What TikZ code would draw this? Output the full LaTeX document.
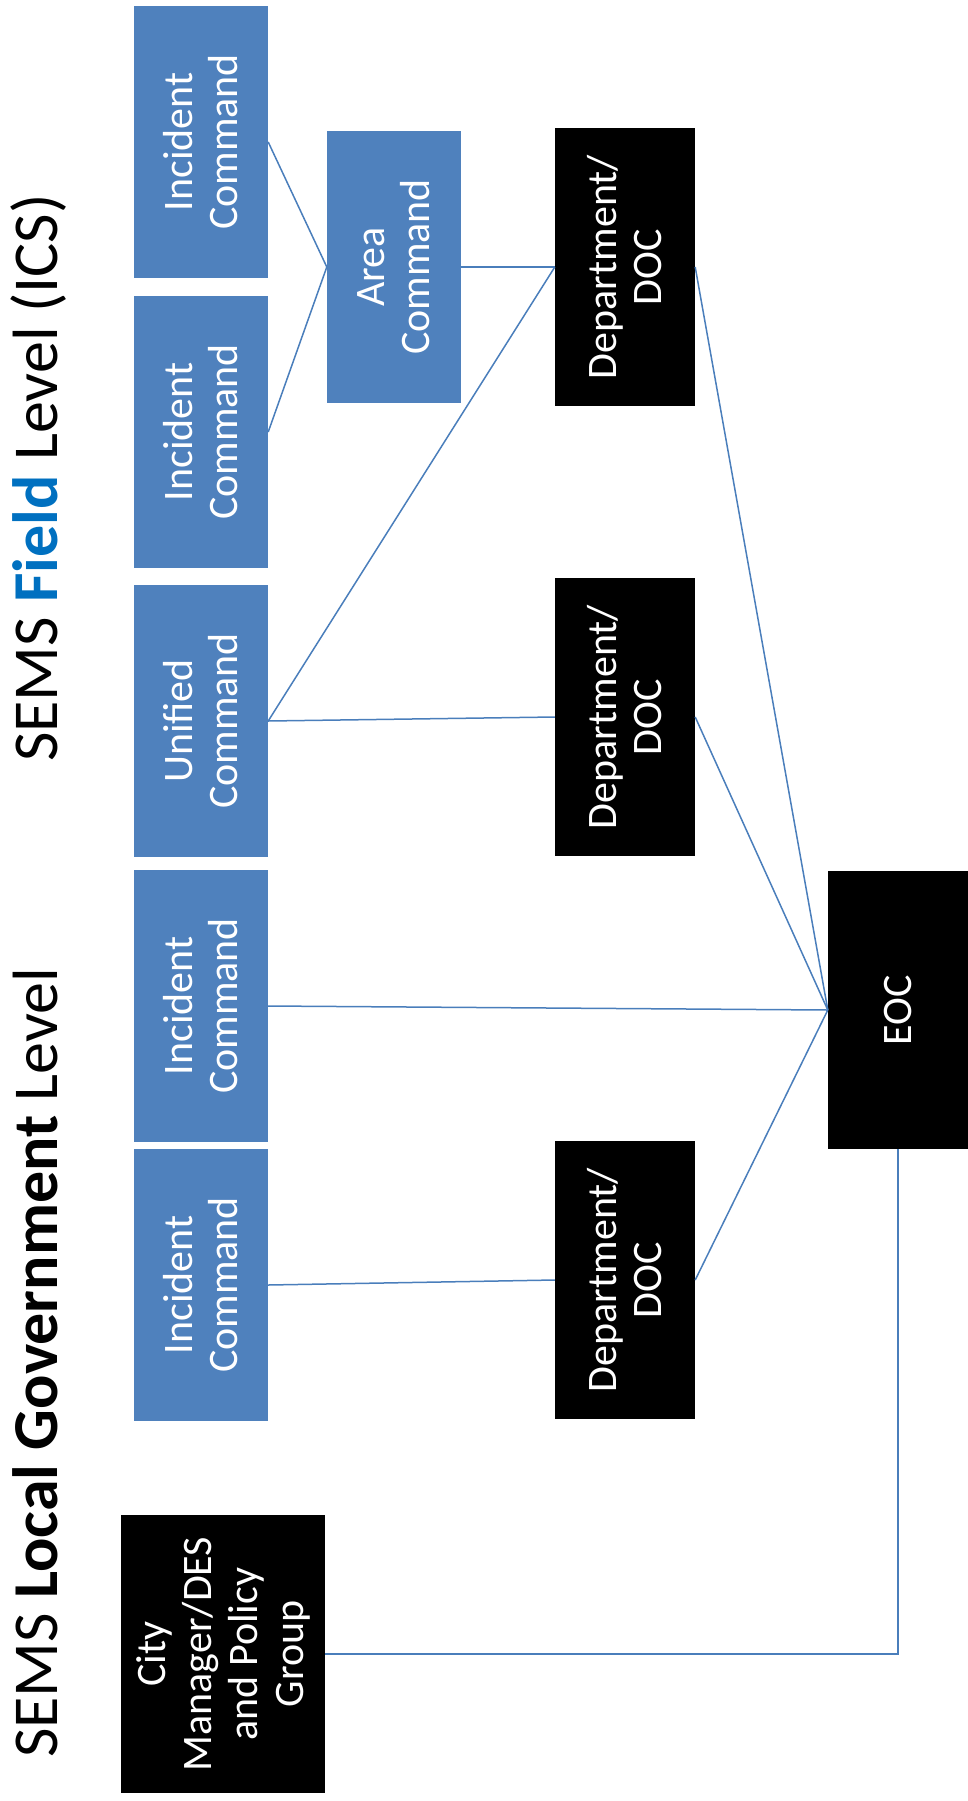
\documentclass[tikz,border=0pt]{standalone}
\usepackage{fontspec}
\setmainfont{Carlito}
\definecolor{boxblue}{HTML}{4F81BD}
\definecolor{fieldblue}{HTML}{0070C0}
\definecolor{linkblue}{HTML}{4A7EBB}
\tikzset{
  box/.style={rotate=90,inner sep=0pt,align=center,text=white,
    font=\fontsize{42}{45}\selectfont},
  bluebox/.style={box,fill=boxblue,minimum width=272pt,minimum height=134pt},
  blackbox/.style={box,fill=black,minimum width=278pt,minimum height=140pt},
  link/.style={draw=linkblue,line width=1.5pt},
  heading/.style={rotate=90,inner sep=0pt,anchor=base,
    font=\fontsize{64}{70}\selectfont}
}

\begin{document}
\begin{tikzpicture}[x=1pt,y=-1pt]
      \useasboundingbox (0,0) rectangle (967,1801);
      \node[heading] (fieldtitle) at (57,478) {SEMS {\color{fieldblue}\textbf{Field}} Level (ICS)};
      \node[heading] (localtitle) at (57,1363) {SEMS \textbf{Local Government} Level};
      \node[bluebox] (ic1) at (201,142) {Incident\\Command};
      \node[bluebox] (ic2) at (201,432) {Incident\\Command};
      \node[bluebox] (uc) at (201,721) {Unified\\Command};
      \node[bluebox] (ic4) at (201,1006) {Incident\\Command};
      \node[bluebox] (ic5) at (201,1285) {Incident\\Command};
      \node[bluebox] (area) at (394,267) {Area\\Command};
      \node[blackbox] (doc1) at (625,267) {Department/\\DOC};
      \node[blackbox] (doc2) at (625,717) {Department/\\DOC};
      \node[blackbox] (doc3) at (625,1280) {Department/\\DOC};
      \node[blackbox] (eoc) at (898,1010) {EOC};
      \node[blackbox,minimum height=204pt,font=\fontsize{42}{46}\selectfont] (cm) at (223,1654) {City\\Manager/DES\\and Policy\\Group};

% rotated boxes: south is the right side, north the left side
\foreach \a/\b in {ic1/area,ic2/area,area/doc1,uc/doc1,uc/doc2,ic4/eoc,ic5/doc3,doc1/eoc,doc2/eoc,doc3/eoc}
  \draw[link] (\a.south) -- (\b.north);
\draw[link] (eoc.west) |- (cm.south);
    \end{tikzpicture}
\end{document}
